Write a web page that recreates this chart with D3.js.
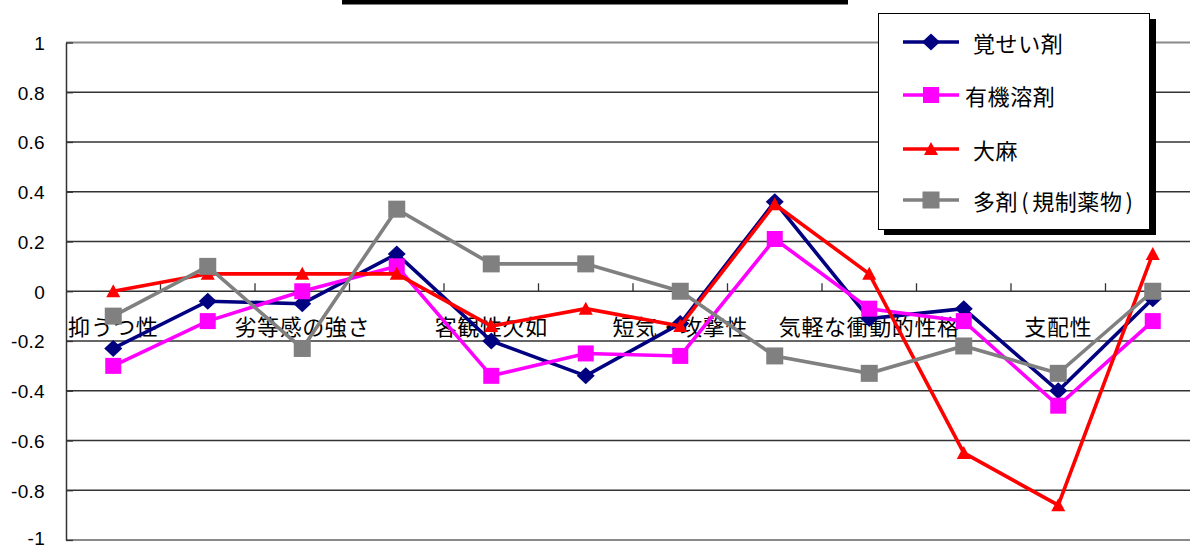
<!DOCTYPE html>
<html>
<head>
<meta charset="utf-8">
<script src="https://cdn.jsdelivr.net/npm/d3@7"></script>
<style>
  html, body { margin: 0; padding: 0; background: #fff; }
  svg { display: block; }
</style>
</head>
<body>
<svg id="chart" width="1190" height="549"></svg>
<script>
// Twelve category slots; trait names sit on every other slot
const categories = ["抑うつ性", "", "劣等感の強さ", "", "客観性欠如", "", "短気・攻撃性", "", "気軽な衝動的性格", "", "支配性", ""];

const seriesNames = ["覚せい剤", "有機溶剤", "大麻", "多剤(規制薬物)"];

const stimulants = [-0.23, -0.04, -0.05, 0.15, -0.20, -0.34, -0.13, 0.36, -0.11, -0.07, -0.40, -0.03];
const solvents   = [-0.30, -0.12, 0.00, 0.10, -0.34, -0.25, -0.26, 0.21, -0.07, -0.12, -0.46, -0.12];
const cannabis   = [0.00, 0.07, 0.07, 0.07, -0.14, -0.07, -0.14, 0.35, 0.07, -0.65, -0.86, 0.15];
const multiDrug  = [-0.10, 0.10, -0.23, 0.33, 0.11, 0.11, 0.00, -0.26, -0.33, -0.22, -0.33, 0.00];

const yTicks = [-1, -0.8, -0.6, -0.4, -0.2, 0, 0.2, 0.4, 0.6, 0.8, 1];
const yTickLabels = ["-1", "-0.8", "-0.6", "-0.4", "-0.2", "0", "0.2", "0.4", "0.6", "0.8", "1"];

const series = [
  { name: seriesNames[0], values: stimulants, color: "#000080", marker: "diamond" },
  { name: seriesNames[1], values: solvents,   color: "#FF00FF", marker: "square" },
  { name: seriesNames[2], values: cannabis,   color: "#FF0000", marker: "triangle" },
  { name: seriesNames[3], values: multiDrug,  color: "#808080", marker: "bigsquare" }
];

const svg = d3.select("#chart");
const jp = "'Noto Sans CJK JP', 'Noto Sans', sans-serif";
const num = "'Liberation Sans', Arial, sans-serif";

const left = 66, band = 94.5;
const x = d3.scaleBand().domain(d3.range(categories.length)).range([left, left + band * categories.length]);
const y = d3.scaleLinear().domain([-1, 1]).range([540, 42.5]);
const cx = i => x(i) + x.bandwidth() / 2;

// Title frame edge at the top
svg.append("rect").attr("x", 342).attr("y", 0).attr("width", 506).attr("height", 4.5).attr("fill", "#000");

// Horizontal gridlines
svg.append("g").selectAll("line").data(yTicks).join("line")
  .attr("x1", left).attr("x2", 1190)
  .attr("y1", d => y(d)).attr("y2", d => y(d))
  .attr("stroke", d => (d === 1 || d === -1) ? "#8a8a8a" : "#333")
  .attr("stroke-width", d => (d === 1 || d === -1) ? 2 : 1.3);

// Value axis
const yAxis = d3.axisLeft(y).tickValues(yTicks)
  .tickFormat((d, i) => yTickLabels[i])
  .tickSizeInner(-7).tickSizeOuter(0).tickPadding(21);
const gy = svg.append("g").attr("transform", `translate(${left},0)`).call(yAxis);
gy.select(".domain").attr("stroke", "#333").attr("stroke-width", 1.5);
gy.selectAll(".tick line").attr("stroke", "#333").attr("stroke-width", 1.3);
gy.selectAll(".tick text").attr("font-family", num).attr("font-size", 19).attr("fill", "#000")
  .attr("dy", d => d === -1 ? "0.22em" : "0.36em").attr("letter-spacing", 0.3);

// Category axis crossing at zero, tick marks between slots
const y0 = y(0);
svg.append("g").selectAll("line").data(d3.range(1, categories.length)).join("line")
  .attr("x1", i => x(i)).attr("x2", i => x(i))
  .attr("y1", y0).attr("y2", y0 - 8)
  .attr("stroke", "#333").attr("stroke-width", 1.3);

svg.append("g").selectAll("text").data(categories.map((c, i) => ({ c, i })).filter(d => d.c))
  .join("text")
  .attr("x", d => cx(d.i)).attr("y", y0 + 34)
  .attr("text-anchor", "middle").attr("dominant-baseline", "central")
  .attr("font-family", jp).attr("font-size", 22).attr("letter-spacing", 0.6).attr("fill", "#000")
  .text(d => d.c);

// Marker shapes
function drawMarker(g, type, color) {
  if (type === "diamond") {
    g.append("path").attr("d", "M0,-8.5 L9,0 L0,8.5 L-9,0 Z").attr("fill", color);
  } else if (type === "square") {
    g.append("rect").attr("x", -8).attr("y", -8).attr("width", 16).attr("height", 16).attr("fill", color);
  } else if (type === "bigsquare") {
    g.append("rect").attr("x", -8.5).attr("y", -8.5).attr("width", 17).attr("height", 17).attr("fill", color);
  } else if (type === "triangle") {
    g.append("path").attr("d", "M0,-7 L7,6 L-7,6 Z").attr("fill", color);
  }
}

const line = d3.line().x((d, i) => cx(i)).y(d => y(d));

series.forEach(s => {
  const g = svg.append("g");
  g.append("path").datum(s.values).attr("d", line)
    .attr("fill", "none").attr("stroke", s.color).attr("stroke-width", 3.6)
    .attr("stroke-linejoin", "miter");
  s.values.forEach((v, i) => {
    const m = g.append("g").attr("transform", `translate(${cx(i)},${y(v)})`);
    drawMarker(m, s.marker, s.color);
  });
});

// Legend with drop shadow
const lg = svg.append("g");
lg.append("rect").attr("x", 884).attr("y", 19).attr("width", 272).attr("height", 216).attr("fill", "#000");
lg.append("rect").attr("x", 878.5).attr("y", 13.5).attr("width", 271).attr("height", 216)
  .attr("fill", "#fff").attr("stroke", "#000").attr("stroke-width", 1);

const legendY = [42, 95, 149, 200];
const legendTextX = [973, 965, 973, 973];
series.forEach((s, k) => {
  const row = lg.append("g");
  row.append("line").attr("x1", 903).attr("x2", 959)
    .attr("y1", legendY[k]).attr("y2", legendY[k])
    .attr("stroke", s.color).attr("stroke-width", 3.6);
  const m = row.append("g").attr("transform", `translate(931,${legendY[k]})`);
  drawMarker(m, s.marker, s.color);
  const t = row.append("text").attr("x", legendTextX[k]).attr("y", legendY[k])
    .attr("dominant-baseline", "central")
    .attr("font-family", jp).attr("font-size", 22).attr("letter-spacing", 0.6).attr("fill", "#000");
  // Half-width parentheses get a little extra room on each side
  s.name.split(/([()])/).filter(p => p).forEach(p => {
    const ts = t.append("tspan").text(p);
    if (p === "(" || p === ")") ts.attr("dx", 3).attr("letter-spacing", 3.5);
  });
});
</script>
</body>
</html>
